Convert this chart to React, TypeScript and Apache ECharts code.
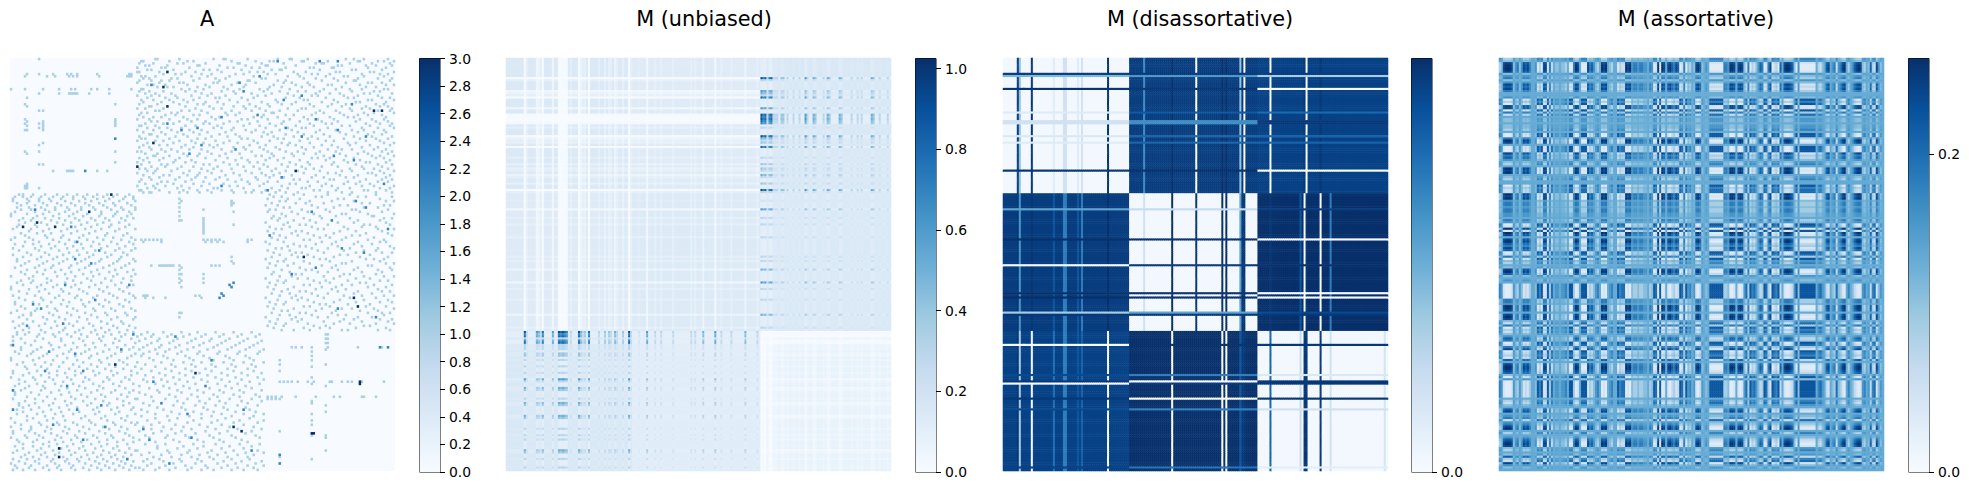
import React, { useEffect, useRef } from "react";
import * as echarts from "echarts";

// All values are estimates. The reference has about 192x192 cells per panel,
// too many to read one by one: A's strongest cells are read individually, its light cells are a
// hand-typed estimate of position and density; the M panels are rebuilt from read row/column profiles.
const N = 192;
const TITLES = ["A", "M (unbiased)", "M (disassortative)", "M (assortative)"];
const BLUES = ["#f7fbff", "#deebf7", "#c6dbef", "#9ecae1", "#6baed6", "#4292c6", "#2171b5", "#08519c", "#08306b"];
const BAR_MAX = [3, 1.025, 1, 0.26];
const BAR_TICKS = [
  [0, 0.2, 0.4, 0.6, 0.8, 1, 1.2, 1.4, 1.6, 1.8, 2, 2.2, 2.4, 2.6, 2.8, 3],
  [0, 0.2, 0.4, 0.6, 0.8, 1],
  [0],
  [0, 0.2],
];
const BLOCK_EDGES = [63, 127];

// --- A: row -> list of columns holding a 1 (upper triangle, mirrored when drawn)
const A_ROWS_TOP = [
"72 73 84 101 106 107 118 133 139 140 148 167 171 176 188",
"65 66 79 88 91 110 122 129 131 145 146 158 173 174 183 186 191",
"64 71 83 86 97 113 114 125 136 152 155 156 169 180 189",
"67 69 78 93 94 104 117 127 128 142 163 165 177 182 190",
"63 75 77 89 108 111 120 124 137 149 151 160 161 178 187",
"68 70 81 96 99 103 115 130 134 135 154 170 172 185",
"63 64 74 87 92 105 119 123 126 141 147 162 164 179 181 191",
"76 82 85 95 100 112 116 128 132 143 150 153 159 175 184 188",
"65 67 72 90 98 109 121 138 144 157 166 168 176 186",
"66 69 80 83 94 102 107 125 127 146 152 161 173 183 190",
"64 70 75 79 91 104 118 119 133 137 155 163 171 172 189",
"63 74 84 86 101 103 113 122 136 140 148 167 178 180 185",
"68 71 77 88 97 110 117 131 142 149 158 160 174 187 191",
"73 78 81 93 99 106 116 129 135 145 151 165 177 182",
"65 66 85 89 96 108 114 124 128 139 156 162 169 175 186 188",
"64 69 76 87 92 105 111 126 134 143 147 154 170 181 184",
"67 72 80 95 100 112 120 130 138 152 159 164 176 179 190",
"63 70 74 82 90 98 107 123 127 141 150 153 166 173 183",
"68 77 83 94 102 104 115 121 137 144 157 168 171 185 189",
"65 71 79 86 91 109 118 132 136 146 148 161 178 180 191",
"66 75 81 88 97 103 113 125 133 142 155 163 172 174 187",
"64 73 84 93 96 106 119 128 135 140 149 160 167 182 186",
"69 70 78 87 99 111 116 122 129 151 158 165 177 184 188",
"63 67 76 92 101 105 117 124 138 145 147 169 175 179 190",
"72 74 85 89 95 110 120 127 134 143 154 162 170 183 189",
"65 68 80 83 98 107 114 130 131 152 156 164 176 181 191",
"64 77 82 91 94 108 112 126 137 141 150 166 173 178 185",
"66 71 75 86 100 104 121 125 133 146 159 168 171 187",
"63 69 79 88 93 102 115 118 128 139 148 153 161 174 180 186",
"70 73 84 90 97 109 113 123 136 144 155 163 172 182 188",
"67 76 81 96 99 106 119 129 135 149 157 160 177 184 190",
"64 65 72 87 92 103 116 124 132 142 151 165 169 179 189",
"68 74 78 85 101 105 111 127 138 145 147 158 175 183 191",
"63 71 80 89 95 110 117 122 134 140 154 162 170 176 186",
"66 75 83 91 98 107 120 126 130 143 152 164 173 181 187",
"69 70 77 86 94 104 112 128 137 146 156 167 178 185",
"64 73 82 88 100 108 114 125 131 141 150 159 171 180 190",
"65 67 79 93 97 115 118 133 136 148 153 166 174 182 188",
"63 72 76 84 90 102 109 121 129 144 157 161 177 184",
"68 71 81 92 96 106 113 123 135 139 149 168 172 186 191",
"66 74 78 87 99 103 119 127 138 142 155 160 169 179 189",
"64 69 85 91 101 111 116 124 132 145 151 163 175 183",
"70 75 80 89 95 105 117 126 134 147 158 165 170 181 187",
"63 65 77 83 98 110 120 128 137 143 154 162 176 185 190",
"67 73 86 94 100 107 114 130 140 146 152 164 173 178 188",
"71 72 79 88 93 104 122 125 131 141 156 167 180 184 191",
"64 68 76 84 97 108 115 129 136 150 153 159 171 182 186",
"66 74 82 90 102 112 118 127 133 144 157 166 174 189",
"63 69 81 87 92 106 119 123 139 148 161 168 177 179 187",
"65 75 78 96 99 109 113 126 135 142 149 160 172 183 190",
"70 77 85 91 103 116 121 128 138 145 155 163 175 185",
"64 67 73 83 95 101 110 124 132 147 151 169 176 181 188",
"68 72 80 89 98 105 117 130 137 143 154 165 170 184 191",
"63 71 86 94 100 111 120 125 134 146 158 162 178 180 186",
"66 76 79 88 93 107 114 127 131 140 152 164 173 182 189",
"69 74 84 92 97 104 122 129 136 150 156 167 171 187",
"65 70 82 90 102 108 115 123 141 144 159 161 177 185 190",
"64 75 78 87 96 112 118 128 133 148 153 168 174 183 188",
"67 73 81 91 99 106 119 126 139 142 157 166 172 179 186",
"63 71 77 85 95 109 113 124 135 149 155 160 175 181 191",
"68 72 83 89 101 103 116 130 138 145 147 163 169 184 189",
"64 65 74 86 93 98 105 110 121 127 134 151 154 162 176 178 187",
"66 69 70 79 84 88 94 100 111 117 120 125 132 137 143 158 165 170 182 190",
];
const A_ROWS_MID = [
"129 141 146 158 169 182",
"131 135 152 155 173 177 190",
"128 138 144 163 166 184",
"134 137 149 160 171 187 191",
"130 142 147 156 175 179",
"127 133 150 164 168 186 189",
"136 139 153 161 176 183",
"129 132 145 157 170 172 188",
"128 140 148 159 174 185",
"135 143 151 165 167 178 191",
"131 137 154 162 180 181",
"130 134 146 155 169 186 190",
"133 141 149 160 173 184",
"127 138 152 163 171 187",
"136 144 147 158 176 179 189",
"129 139 150 166 175 182",
"132 135 153 156 168 183 191",
"128 142 145 164 172 185",
"131 140 148 161 177 188",
"134 143 151 157 170 174 190",
"130 137 154 159 167 181",
"133 146 149 165 178 186",
"127 136 155 162 173 184 187",
"129 141 152 160 171 180",
"138 144 147 163 175 189",
"132 135 150 158 169 183 191",
"128 139 153 166 176 182",
"131 142 145 156 172 185 190",
"134 140 148 164 168 179",
"130 143 151 161 174 188",
"127 137 154 157 177 181 186",
"133 136 146 159 170 184",
"129 141 149 165 167 187 191",
"132 138 155 162 178 180",
"128 144 152 160 173 189",
"135 147 150 163 171 183 190",
"131 139 153 158 175 185",
"130 142 145 166 169 182",
"134 140 156 164 176 186 191",
"127 143 148 161 172 179",
"133 137 151 157 168 184 188",
"129 136 154 159 174 177",
"132 146 149 165 170 181 190",
"128 141 155 162 178 187",
"131 138 152 160 167 183",
"135 144 147 163 173 185 189",
"130 139 150 158 171 180",
"134 142 153 166 175 186 191",
"127 140 145 156 169 182",
"133 143 148 164 176 188",
"129 137 151 161 172 184 190",
"132 136 154 157 168 179",
"128 146 149 159 177 187",
"131 141 155 165 170 181 191",
"135 138 152 162 174 183",
"130 144 147 160 178 185 189",
"134 139 150 163 167 186",
"127 142 153 158 173 180",
"133 140 145 166 171 184 190",
"129 143 156 164 175 188",
"132 137 148 161 169 182 191",
"128 136 151 157 176 179",
"131 146 154 159 172 187",
"135 141 149 165 168 183 189",
];
// strongest cells: [row, column, value]
const A_STRONG = [
[6,78,3],[13,76,3],[22,78,3],[39,71,3],[50,63,3],[26,123,2],[52,142,3],[24,181,3],[24,185,3],[36,177,2],
[1,154,2],[1,163,2],[1,133,2],[19,136,2],[17,145,2],[27,105,2],[11,114,2],[92,146,3],[115,173,3],[116,163,2],
[69,177,2],[90,176,2],[106,110,2],[97,152,2],[32,137,2],[32,93,2],[61,128,2],[58,186,2],[111,171,3],[79,188,2],
[45,161,2],[33,163,2],[150,174,3],[174,151,3],[184,134,2],[188,134,2],[109,105,2],[111,104,2],[52,37,2],[36,145,2],
[12,70,2],[30,78,2],[44,89,2],[15,116,2],[40,95,2],[55,135,2],[28,152,2],[47,171,2],[66,172,2],[71,150,2],
[82,129,2],[88,165,2],[100,140,2],[120,182,2],[75,160,2],[59,105,2],[8,124,2],[21,170,2],[33,85,2],[42,112,2],
];
// sparse lines inside the diagonal blocks: [row, columns]
const A_DIAGONAL = [
[8,"7 18 22 29 31 33 44 58 59 60"],[14,"0 7 16 24 30 32 40 43 49 60"],[21,"7"],[24,"16"],[28,"7 52"],[29,"16"],[30,"7 16"],
[31,"16"],[32,"16"],[33,"7 16"],[37,"52"],[39,"16"],[43,"7 52"],[49,"16"],[52,"21 28 29 30 31 37 43 48"],[59,"7"],[60,"7"],
[74,"96"],[75,"85 96"],[76,"96"],[77,"96"],[78,"96"],[79,"96"],[80,"96"],[84,"65 67 69 71 73 75 96 98 100 102 104 118 120"],
[96,"70 75 77 79 81 100 102 104"],[66,"85 110"],[67,"110"],[68,"110"],[97,"85"],[100,"85"],[103,"85"],[106,"85"],[118,"85"],[92,"110"],[94,"110"],
[111,"67 71 77 95"],[134,"140 142 145 150 158 173 185 188"],[128,"158"],[130,"158"],[132,"158"],[136,"150"],[140,"150"],
[150,"134 138 140 143 148 151 159 165 170 175 186"],[157,"128 130 132 135 142 152 161 164 175 176 182"],[160,"150"],[165,"150"],[168,"150"],
];

const U_LOADS = [[9,9],[10,3],[15,6],[16,5],[17,3],[18,8],[23,6],[26,9],[27,8],[28,9],[29,8],[30,7],[32,3],[36,9],[37,5],[38,3],[39,4],[41,8],[46,3],[49,4],[51,4],[52,3],[54,5],[55,3],[58,4],[61,9],[62,3],[66,2],[70,6],[74,3],[77,3],[83,3],[92,3],[94,3],[98,5],[104,6],[107,3],[112,3],[119,5],[125,3],
[127,9],[128,7],[129,8],[130,3],[131,7],[132,8],[133,3],[134,3],[135,3],[137,4],[138,4],[140,3],[143,3],[146,3],[149,6],[150,3],[153,5],[154,4],[158,3],[160,5],[161,4],[166,5],[167,4],[172,3],[175,3],[177,3],[182,5],[183,4],[186,3],[190,3]];
const U_BLOCK_BASE = [[1, 0.9, 1], [0.9, 0.95, 0.95], [1, 0.75, 0.52]];

// --- M (disassortative): block levels and lines, [index, level against block 0, 1, 2]
const D_BLOCK = [[0.02, 0.95, 0.93], [0.95, 0.02, 1], [0.93, 1, 0.02]];
const D_ROW_LINES = [
[7,.95,.97,.95],[8,.45,.6,.35],[14,.98,.98,0],[25,.12,.85,.78],[29,.2,.65,.97],[30,.2,.65,.97],[36,.15,.8,.8],[39,.12,.8,.8],[52,.98,1,0],
[70,.55,.25,.95],[84,1,1,0],[96,0,.97,1],[109,1,1,0],[111,1,1,0],[118,.35,.55,.9],[119,.97,.97,.97],[133,0,1,.97],[147,.9,.7,.15],[150,.97,0,.97],[151,0,.97,.97],[158,.97,0,.97],[163,.9,.7,.2],[190,.93,.75,.1],
];
const D_COL_LINES = [
[7,.95,.97,.97],[8,.4,.6,.35],[14,.98,.98,0],[25,.12,.85,.75],[30,.2,.7,.7],[31,.2,.7,.7],[37,.12,.85,.85],[39,.2,.7,.8],[52,.98,1,0],
[70,.65,.2,1],[84,1,1,0],[96,0,.97,1],[109,1,1,0],[111,1,1,0],[118,.4,.55,.85],[119,.97,.97,.97],[120,0,.97,.97],[133,0,.97,.8],[148,.93,.85,.25],[150,.97,0,.97],[151,0,.97,.97],[158,.97,0,.97],[163,.93,.7,.2],[190,.93,1,.18],
];

// --- M (assortative): loading of each index, digit 0-9 (5 = neutral), read along row 153
const S_LOADING = "76"+"10001"+"64364"+"1213"+"554"+"979"+"11"+"9385"+"6656675"+"993"+"01"+"5"+"9991"+"324"+"675"+"010"+"56755"+"9788"+"010"+"4334334453"+"4"+"9809"+"015"+"102312"+"9839"+"6756"+"102"+"6545"+"9999999"+"334"+"0015"+"101683"+"9786"+"423"+"9831"+"9879"+"25"+"10012"+"694"+"99999999"+"57865"+"2154"+"3"+"843"+"105754210167562781465";

const blockOf = (i: number) => (i < BLOCK_EDGES[0] ? 0 : i < BLOCK_EDGES[1] ? 1 : 2);

function buildA() {
  const cells = new Map<string, number>();
  const put = (r: number, c: number, v: number) => {
    cells.set(r + "," + c, v);
    cells.set(c + "," + r, v);
  };
  A_ROWS_TOP.forEach((s, r) => s.split(" ").forEach((c) => put(r, +c, 1)));
  A_ROWS_MID.forEach((s, r) => s.split(" ").forEach((c) => put(r + BLOCK_EDGES[0], +c, 1)));
  A_DIAGONAL.forEach(([r, s]) => String(s).split(" ").forEach((c) => put(+r, +c, 1)));
  A_STRONG.forEach(([r, c, v]) => put(r, c, v));
  return [...cells.entries()].map(([k, v]) => {
    const [r, c] = k.split(",").map(Number);
    return [c, r, v];
  });
}

function buildUnbiased() {
  const load = new Array(N).fill(1);
  U_LOADS.forEach(([i, v]) => (load[i] = v));
  const f = (i: number) => Math.max(0.05, 1.08 - 0.13 * load[i]);
  const out: number[][] = [];
  for (let r = 0; r < N; r++)
    for (let c = 0; c < N; c++) {
      const br = blockOf(r), bc = blockOf(c);
      let v = 0.16 * f(r) * f(c) * U_BLOCK_BASE[br][bc];
      if ((br === 2) !== (bc === 2)) v += (0.9 * load[r] * load[c]) / 81;
      out.push([c, r, +v.toFixed(3)]);
    }
  return out;
}

function buildDisassortative() {
  const rows = new Map(D_ROW_LINES.map((l) => [l[0], l]));
  const cols = new Map(D_COL_LINES.map((l) => [l[0], l]));
  const out: number[][] = [];
  for (let r = 0; r < N; r++)
    for (let c = 0; c < N; c++) {
      const rl = rows.get(r), cl = cols.get(c);
      let v = D_BLOCK[blockOf(r)][blockOf(c)];
      if (cl) v = cl[1 + blockOf(r)];
      if (rl) v = rl[1 + blockOf(c)];
      out.push([c, r, v]);
    }
  return out;
}

function buildAssortative() {
  const d = S_LOADING.split("").map((ch) => Math.max(-1, Math.min(1, (+ch - 5) / 4.8)));
  const out: number[][] = [];
  for (let r = 0; r < N; r++)
    for (let c = 0; c < N; c++) out.push([c, r, +(0.135 + 0.125 * d[r] * d[c]).toFixed(3)]);
  return out;
}

const MAP_X = [10, 506, 1003, 1499];
const BAR_X = [419.5, 915.5, 1411.5, 1908.5];
const TITLE_X = [202, 699, 1195, 1691];

export default function App() {
  const ref = useRef<HTMLDivElement>(null);
  useEffect(() => {
    document.body.style.margin = "0";
    const chart = echarts.init(ref.current!, undefined, { renderer: "svg" });
    const idx = Array.from({ length: N }, (_, i) => i);
    const data = [buildA(), buildUnbiased(), buildDisassortative(), buildAssortative()];
    const grid: any[] = [], xAxis: any[] = [], yAxis: any[] = [], series: any[] = [], visualMap: any[] = [];
    TITLES.forEach((_, p) => {
      grid.push({ left: MAP_X[p], top: 58, width: 385, height: 413, show: true, backgroundColor: BLUES[0], borderWidth: 0 });
      xAxis.push({ type: "category", gridIndex: 2 * p, data: idx, show: false });
      yAxis.push({ type: "category", gridIndex: 2 * p, data: idx, show: false, inverse: true });
      series.push({ type: "heatmap", xAxisIndex: 2 * p, yAxisIndex: 2 * p, data: data[p], silent: true, progressive: 0, emphasis: { disabled: true } });
      visualMap.push({ type: "continuous", seriesIndex: 2 * p, min: 0, max: BAR_MAX[p], show: false, inRange: { color: BLUES } });

      grid.push({ left: BAR_X[p], top: 58.5, width: 20.5, height: 413.5, show: true, borderColor: "#000", borderWidth: 1, backgroundColor: "transparent" });
      xAxis.push({ type: "category", gridIndex: 2 * p + 1, data: ["bar"], show: false });
      yAxis.push({
        type: "value", gridIndex: 2 * p + 1, position: "right", min: 0, max: BAR_MAX[p],
        splitLine: { show: false }, axisLine: { show: false },
        axisTick: { show: true, length: 5, customValues: BAR_TICKS[p], lineStyle: { color: "#000", width: 1 } },
        axisLabel: {
          show: true, customValues: BAR_TICKS[p], margin: 9, color: "#000", fontSize: 13.9, fontFamily: "DejaVu Sans",
          formatter: (v: number) => v.toFixed(1),
        },
      });
      series.push({
        type: "bar", xAxisIndex: 2 * p + 1, yAxisIndex: 2 * p + 1, data: [BAR_MAX[p]], barWidth: "100%", silent: true,
        itemStyle: {
          color: new echarts.graphic.LinearGradient(0, 1, 0, 0, BLUES.map((c, i) => ({ offset: i / 8, color: c }))),
        },
      });
    });
    chart.setOption({
      animation: false,
      backgroundColor: "#fff",
      title: TITLES.map((t, p) => ({
        text: t, left: TITLE_X[p], top: 3, textAlign: "center",
        textStyle: { fontFamily: "DejaVu Sans", fontSize: 20.8, fontWeight: "normal", color: "#000" },
      })),
      grid, xAxis, yAxis, series, visualMap,
    });
    return () => chart.dispose();
  }, []);
  return <div ref={ref} style={{ width: 1969, height: 490, position: "fixed", left: 0, top: 0 }} />;
}
